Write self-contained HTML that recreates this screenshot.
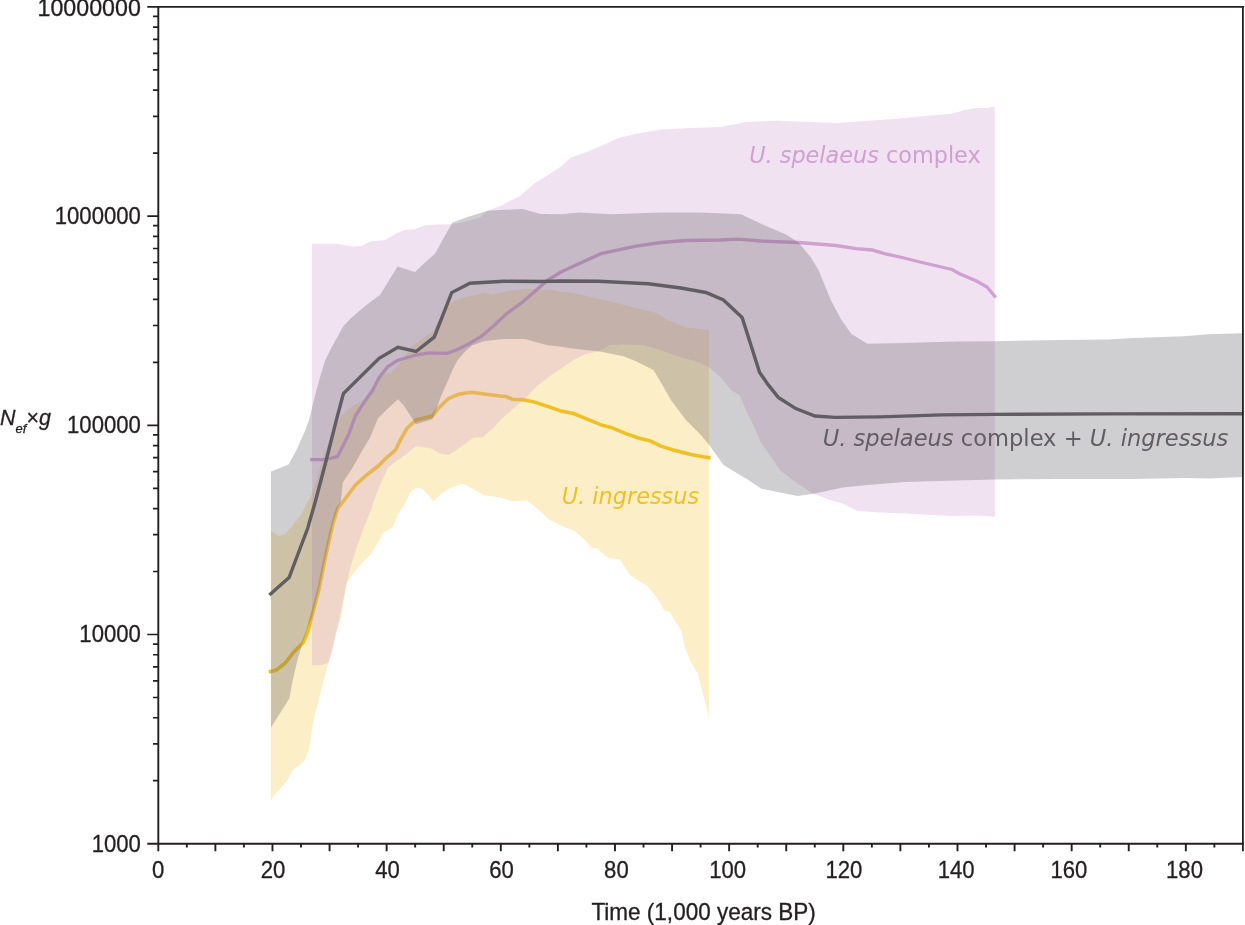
<!DOCTYPE html>
<html lang="en"><head><meta charset="utf-8"><title>Bayesian skyline plot</title>
<style>html,body{margin:0;padding:0;background:#fff}body{width:1245px;height:925px;overflow:hidden}svg{display:block}.a{font-family:"Liberation Sans",Arial,Helvetica,sans-serif;font-size:22.4px;fill:#231f20;stroke:#231f20;stroke-width:0.3px}.v{font-family:"DejaVu Sans",Verdana,sans-serif;font-size:22.5px}.i{font-style:italic}</style></head><body>
<svg width="1245" height="925" viewBox="0 0 1245 925">
<rect width="1245" height="925" fill="#fff"/>
<g>
<polygon points="270.8,530.8 278.8,535.9 285.1,534.0 291.4,527.1 301.4,514.5 307.7,502.0 312.0,494.0 318.0,475.0 324.0,455.0 330.0,437.0 334.0,427.4 340.3,417.4 347.8,409.2 355.3,404.8 364.1,399.8 370.4,392.3 377.9,380.3 385.4,374.0 391.7,372.1 397.9,365.2 404.2,357.7 410.5,347.6 416.0,343.0 423.5,337.7 432.3,332.1 436.0,325.0 447.0,305.0 452.4,302.6 457.4,299.5 468.7,296.3 478.7,294.5 484.3,292.6 491.2,294.5 503.8,292.0 516.3,290.0 528.9,288.8 541.4,290.0 551.4,289.4 560.2,292.0 572.0,292.5 586.0,296.0 611.0,301.8 635.9,308.0 655.9,313.0 668.4,320.0 685.9,327.5 709.0,330.0 709.0,716.5 706.5,706.5 702.7,692.7 697.7,673.2 692.7,665.1 690.0,660.0 685.0,647.5 681.3,630.6 675.2,621.4 669.6,611.8 664.0,610.2 657.5,598.5 647.0,585.5 637.3,579.9 630.0,575.0 619.8,559.4 607.3,557.4 597.4,548.7 591.1,547.4 586.1,541.2 574.9,531.2 562.4,526.2 549.9,520.0 537.4,508.7 527.4,500.5 512.4,501.2 499.9,497.5 483.7,495.0 472.4,488.7 462.5,483.7 450.0,488.0 440.5,494.5 433.3,501.0 422.5,488.7 416.2,487.5 410.0,492.5 406.1,502.0 397.9,514.5 392.9,527.1 382.3,533.3 380.4,538.4 370.4,554.7 360.3,564.7 351.5,576.0 346.5,583.5 340.9,618.0 335.2,636.8 328.3,663.8 322.7,683.2 318.9,700.0 315.2,712.5 312.7,725.1 308.9,750.2 303.9,761.4 292.6,770.2 287.6,780.3 276.3,792.8 270.8,800.3" fill="rgb(244,200,65)" fill-opacity="0.3"/>
<polyline points="268.8,671.9 276.3,670.0 285.1,663.1 293.9,651.9 303.3,642.5 307.7,631.8 311.4,618.0 318.9,589.8 326.5,552.2 332.7,524.6 337.7,508.3 342.8,502.0 355.3,485.1 366.6,475.0 377.9,466.3 385.4,458.7 395.4,450.0 400.5,439.9 406.7,428.6 416.0,419.9 432.3,416.1 438.6,408.0 448.6,398.5 458.6,394.2 471.2,392.3 486.2,394.2 500.0,396.0 506.3,396.5 512.2,399.2 521.9,399.6 534.0,401.9 548.7,406.8 561.0,411.1 573.5,413.6 586.0,418.6 601.0,424.9 611.0,427.4 626.0,433.6 638.4,437.9 650.9,441.1 660.9,446.1 673.4,449.9 690.9,454.4 710.6,458.0" fill="none" stroke="rgb(240,192,35)" stroke-width="3.6" stroke-linejoin="miter" stroke-linecap="butt"/>
<polygon points="312.0,243.7 338.0,243.7 352.0,246.5 362.0,246.0 370.0,241.5 385.0,240.0 397.0,233.0 405.0,230.0 415.0,229.0 425.0,225.5 437.0,224.5 450.0,224.3 462.5,222.5 480.0,217.5 487.5,210.7 500.0,206.0 512.0,200.0 520.0,196.0 535.0,183.0 548.0,175.0 561.0,166.5 571.0,157.5 588.5,151.2 606.0,143.7 618.5,138.0 636.0,133.7 661.0,129.5 691.0,128.0 721.0,127.0 746.0,122.0 778.5,120.7 811.0,122.0 836.0,123.0 872.0,120.5 897.0,118.7 922.0,116.2 952.0,113.7 964.5,110.0 977.0,108.0 987.0,108.0 994.8,106.2 994.8,516.8 974.9,515.4 954.9,516.1 929.9,514.9 904.9,513.6 879.9,512.4 857.4,511.1 842.5,503.6 830.0,499.9 812.5,493.6 792.5,479.9 780.0,469.9 773.3,459.9 760.9,442.4 753.4,424.9 745.9,409.9 739.6,394.9 730.9,389.9 720.9,377.4 709.6,367.4 695.9,361.2 680.9,357.4 660.9,349.9 643.4,344.9 626.0,344.4 611.0,344.9 598.5,351.2 586.0,353.7 573.5,359.9 560.2,369.1 547.7,377.8 536.4,386.5 528.9,394.8 522.6,400.4 511.3,410.3 501.3,419.0 493.8,427.4 482.5,437.4 473.7,437.4 459.9,447.5 448.6,455.0 438.6,453.1 432.3,448.7 416.0,446.0 406.7,453.7 397.9,460.0 387.9,467.5 385.4,473.8 377.9,490.1 373.5,502.0 371.6,508.3 364.1,527.1 357.8,544.6 350.3,567.2 345.3,589.8 339.6,618.0 336.5,630.5 332.7,649.4 328.3,663.1 321.4,665.0 312.0,665.4" fill="rgb(208,160,208)" fill-opacity="0.3"/>
<polyline points="310.2,459.7 325.2,459.7 337.5,456.5 341.5,448.7 349.0,433.7 355.3,416.1 364.1,402.3 372.9,389.8 379.1,377.7 387.9,366.5 397.9,360.2 416.0,355.0 428.5,352.8 447.4,353.4 457.4,349.6 468.7,344.0 481.2,336.5 493.8,325.8 506.3,313.9 522.6,302.0 535.1,291.3 547.7,280.0 561.0,272.0 576.0,265.0 601.0,253.7 636.0,246.2 661.0,242.5 686.0,240.5 721.0,240.0 738.5,239.2 761.0,241.0 798.5,242.5 836.0,245.5 856.0,248.7 872.0,250.0 884.5,253.7 902.0,257.5 922.0,262.5 952.0,269.5 959.5,273.7 977.0,281.2 987.0,287.0 995.8,297.5" fill="none" stroke="rgb(208,160,208)" stroke-width="3.3" stroke-linejoin="miter" stroke-linecap="butt"/>
<polygon points="271.0,471.5 288.5,464.5 296.0,451.0 305.0,431.0 309.0,420.0 312.0,408.0 316.4,390.3 320.2,376.5 325.2,360.2 331.5,347.6 337.7,336.4 342.8,327.0 350.3,318.8 359.0,311.3 366.6,305.0 372.9,300.0 380.0,295.0 397.5,266.5 415.0,272.0 425.0,262.5 435.0,253.7 442.5,240.0 452.5,222.5 467.5,217.0 487.5,210.7 500.0,210.0 522.5,209.0 541.0,214.0 561.0,214.2 578.5,212.5 611.0,214.2 661.0,212.5 701.0,212.5 741.0,214.2 761.0,223.8 786.0,234.6 798.5,242.5 811.0,257.5 818.5,270.0 830.8,300.0 840.8,319.0 851.2,333.7 867.4,343.7 904.9,343.0 954.9,341.5 994.0,341.2 1058.9,340.0 1108.9,339.5 1133.8,338.0 1183.8,336.2 1208.8,334.2 1243.3,333.2 1243.3,476.9 1208.8,478.6 1183.8,477.9 1133.8,478.9 1058.9,478.9 994.3,479.4 954.9,480.4 904.9,481.9 867.4,484.9 842.5,487.4 815.0,493.6 797.5,496.1 780.0,492.4 760.9,488.6 748.4,479.9 735.9,472.4 723.6,465.0 709.2,445.0 700.9,434.9 685.9,419.9 670.9,399.9 660.9,382.4 653.4,369.9 635.9,361.2 623.5,356.2 598.5,351.2 586.0,349.9 572.0,348.4 560.2,346.5 547.7,345.2 535.1,342.1 525.1,339.0 503.8,339.0 485.0,340.9 472.4,345.2 466.2,350.3 457.4,360.3 452.4,370.3 445.5,386.0 441.1,396.0 436.1,409.8 432.3,419.2 416.0,424.2 410.5,416.1 404.2,406.1 397.9,399.2 387.9,408.6 377.9,418.6 370.0,437.5 362.5,450.0 353.0,467.0 342.8,482.6 340.8,502.0 337.8,508.0 333.0,523.0 326.8,551.0 319.4,587.0 311.8,618.0 307.7,628.0 302.6,643.1 297.6,659.4 292.6,680.7 289.5,698.3 271.0,727.4" fill="rgb(97,94,99)" fill-opacity="0.3"/>
<polyline points="269.4,595.0 289.1,577.5 307.7,528.3 315.2,502.0 326.3,460.0 336.4,419.9 343.4,393.6 379.1,358.3 397.9,347.4 416.0,351.5 434.2,337.1 451.7,292.6 469.9,283.2 503.8,281.3 541.4,281.5 561.0,281.0 598.5,281.2 648.4,283.7 680.9,288.0 705.9,292.5 723.4,300.0 742.1,317.5 750.9,344.9 759.6,372.4 768.3,384.9 778.3,397.4 795.8,408.6 815.0,416.0 835.0,417.4 879.9,416.9 942.4,414.9 994.3,414.4 1108.9,413.9 1243.3,413.7" fill="none" stroke="rgb(97,94,99)" stroke-width="3.4" stroke-linejoin="miter" stroke-linecap="butt"/>
</g>
<g opacity="0.999">
<text class="v" transform="translate(749.2,162.6) scale(0.994,1)" fill="rgb(208,160,208)"><tspan class="i">U. spelaeus</tspan> complex</text>
<text class="v i" transform="translate(561.7,503.6) scale(0.996,1)" fill="rgb(240,192,35)">U. ingressus</text>
<text class="v" transform="translate(822.7,445.6) scale(1.004,1)" fill="rgb(97,94,99)"><tspan class="i">U. spelaeus</tspan> complex + <tspan class="i">U. ingressus</tspan></text>
</g>
<g stroke="#231f20" fill="none" stroke-linecap="butt">
<path stroke-width="1.9" d="M158.3 6.9V843.7"/>
<path stroke-width="1.9" d="M147.3 843.7H1243.8"/>
<path stroke-width="1.8" d="M147.3 6.9H1243.8"/>
<path stroke-width="1.8" d="M1242.9 6.0V851.2"/>
<path stroke-width="1.7" d="M153 780.72H158.3M153 743.89H158.3M153 717.75H158.3M153 697.48H158.3M153 680.91H158.3M153 666.91H158.3M153 654.77H158.3M153 644.07H158.3M147.3 634.50H158.3M153 571.52H158.3M153 534.69H158.3M153 508.55H158.3M153 488.28H158.3M153 471.71H158.3M153 457.71H158.3M153 445.57H158.3M153 434.87H158.3M147.3 425.30H158.3M153 362.32H158.3M153 325.49H158.3M153 299.35H158.3M153 279.08H158.3M153 262.51H158.3M153 248.51H158.3M153 236.37H158.3M153 225.67H158.3M147.3 216.10H158.3M153 153.12H158.3M153 116.29H158.3M153 90.15H158.3M153 69.88H158.3M153 53.31H158.3M153 39.31H158.3M153 27.17H158.3M153 16.47H158.3"/>
<path stroke-width="1.9" d="M158.30 843.7V851.2M186.84 843.7V847.4M215.39 843.7V851.2M243.93 843.7V847.4M272.47 843.7V851.2M301.01 843.7V847.4M329.56 843.7V851.2M358.10 843.7V847.4M386.64 843.7V851.2M415.18 843.7V847.4M443.73 843.7V851.2M472.27 843.7V847.4M500.81 843.7V851.2M529.35 843.7V847.4M557.89 843.7V851.2M586.44 843.7V847.4M614.98 843.7V851.2M643.52 843.7V847.4M672.07 843.7V851.2M700.61 843.7V847.4M729.15 843.7V851.2M757.69 843.7V847.4M786.24 843.7V851.2M814.78 843.7V847.4M843.32 843.7V851.2M871.86 843.7V847.4M900.40 843.7V851.2M928.95 843.7V847.4M957.49 843.7V851.2M986.03 843.7V847.4M1014.58 843.7V851.2M1043.12 843.7V847.4M1071.66 843.7V851.2M1100.20 843.7V847.4M1128.75 843.7V851.2M1157.29 843.7V847.4M1185.83 843.7V851.2M1214.37 843.7V847.4"/>
</g>
<g opacity="0.999">
<text class="a" transform="translate(140.80,16.10) scale(0.993,1)" text-anchor="end" style="font-size:23.4px">10000000</text>
<text class="a" transform="translate(140.90,224.00) scale(0.950,1)" text-anchor="end" style="font-size:23.3px">1000000</text>
<text class="a" transform="translate(140.90,433.20) scale(0.950,1)" text-anchor="end" style="font-size:23.3px">100000</text>
<text class="a" transform="translate(140.90,642.40) scale(0.950,1)" text-anchor="end" style="font-size:23.3px">10000</text>
<text class="a" transform="translate(140.90,851.60) scale(0.950,1)" text-anchor="end" style="font-size:23.3px">1000</text>
<text class="a" transform="translate(158.20,877.80) scale(0.950,1)" text-anchor="middle" style="font-size:23.3px">0</text>
<text class="a" transform="translate(273.00,877.80) scale(0.950,1)" text-anchor="middle" style="font-size:23.3px">20</text>
<text class="a" transform="translate(387.60,877.80) scale(0.950,1)" text-anchor="middle" style="font-size:23.3px">40</text>
<text class="a" transform="translate(501.50,877.80) scale(0.950,1)" text-anchor="middle" style="font-size:23.3px">60</text>
<text class="a" transform="translate(616.40,877.80) scale(0.950,1)" text-anchor="middle" style="font-size:23.3px">80</text>
<text class="a" transform="translate(727.70,877.80) scale(0.950,1)" text-anchor="middle" style="font-size:23.3px">100</text>
<text class="a" transform="translate(843.90,877.80) scale(0.950,1)" text-anchor="middle" style="font-size:23.3px">120</text>
<text class="a" transform="translate(956.20,877.80) scale(0.950,1)" text-anchor="middle" style="font-size:23.3px">140</text>
<text class="a" transform="translate(1068.90,877.80) scale(0.950,1)" text-anchor="middle" style="font-size:23.3px">160</text>
<text class="a" transform="translate(1184.50,877.80) scale(0.950,1)" text-anchor="middle" style="font-size:23.3px">180</text>
<text class="a" transform="translate(703.60,919.60) scale(0.967,1)" text-anchor="middle" style="font-size:23.3px">Time (1,000 years BP)</text>
<text class="a" transform="translate(0.1,424.5) scale(0.955,1)" style="font-size:22.5px"><tspan class="i">N</tspan><tspan class="i" dy="8" style="font-size:13.6px">ef</tspan><tspan dy="-8">×</tspan><tspan class="i">g</tspan></text>
</g>
</svg></body></html>
